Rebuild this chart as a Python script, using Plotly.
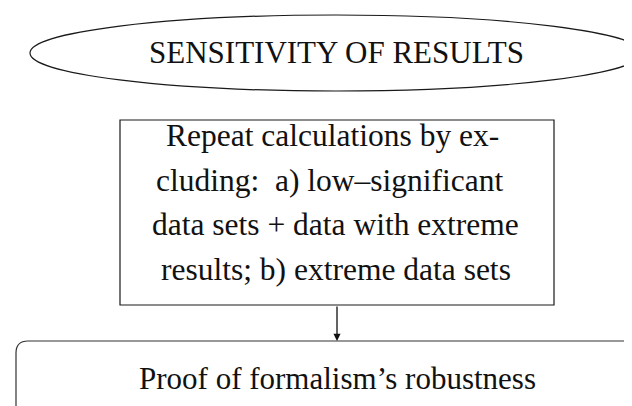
import plotly.graph_objects as go

# Node texts
title_text = "SENSITIVITY OF RESULTS"
box_lines = [
    "Repeat calculations by ex-",
    "cluding:\u00a0 a) low–significant",
    "data sets + data with extreme",
    "results; b) extreme data sets",
]
result_text = "Proof of formalism’s robustness"

W, H = 632, 406
FONT = "Liberation Serif"
fs_title = 31
fs_box = 31.5
fs_res = 31

fig = go.Figure()
fig.add_trace(go.Scatter(x=[0, W], y=[0, H], mode="markers", marker=dict(opacity=0),
                         hoverinfo="skip", showlegend=False))

shapes = []
# ellipse
shapes.append(dict(type="circle", xref="x", yref="y", x0=22, x1=634, y0=7, y1=83,
                   line=dict(color="#1a1a1a", width=1.2)))
# rectangle
shapes.append(dict(type="rect", xref="x", yref="y", x0=112, x1=546, y0=112, y1=297,
                   line=dict(color="#1a1a1a", width=1.2)))
# rounded rectangle
x0, x1, y0, y1, r = 8, 650, 333, 412, 12
path = (f"M {x0+r},{y0} L {x1-r},{y0} Q {x1},{y0} {x1},{y0+r} L {x1},{y1-r} Q {x1},{y1} {x1-r},{y1} "
        f"L {x0+r},{y1} Q {x0},{y1} {x0},{y1-r} L {x0},{y0+r} Q {x0},{y0} {x0+r},{y0} Z")
shapes.append(dict(type="path", xref="x", yref="y", path=path, line=dict(color="#333", width=1.2)))

def center_from_baseline(b, fs):
    return b - 0.36 * fs

annotations = []
annotations.append(dict(x=328, y=center_from_baseline(56, fs_title), xref="x", yref="y", text=title_text,
                        showarrow=False, font=dict(family=FONT, size=fs_title, color="#111"),
                        xanchor="center", yanchor="middle"))
baselines = [139, 184, 228, 273]
line_centers = [324, 322, 327, 328]
for line, b, cx in zip(box_lines, baselines, line_centers):
    annotations.append(dict(x=cx, y=center_from_baseline(b, fs_box), xref="x", yref="y", text=line,
                            showarrow=False, font=dict(family=FONT, size=fs_box, color="#111"),
                            xanchor="center", yanchor="middle"))
annotations.append(dict(x=329, y=center_from_baseline(382, fs_res), xref="x", yref="y", text=result_text,
                        showarrow=False, font=dict(family=FONT, size=fs_res, color="#111"),
                        xanchor="center", yanchor="middle"))
# arrow
annotations.append(dict(x=329, y=333, ax=329, ay=297, xref="x", yref="y", axref="x", ayref="y",
                        text="", showarrow=True, arrowhead=2, arrowsize=1.1, arrowwidth=1.3,
                        arrowcolor="#111", standoff=0, startstandoff=0))

fig.update_layout(
    width=W, height=H, margin=dict(l=0, r=0, t=0, b=0),
    paper_bgcolor="white", plot_bgcolor="white",
    xaxis=dict(range=[0, W], visible=False, fixedrange=True),
    yaxis=dict(range=[H, 0], visible=False, fixedrange=True),
    shapes=shapes, annotations=annotations, showlegend=False,
)
fig.write_html("out.html")
